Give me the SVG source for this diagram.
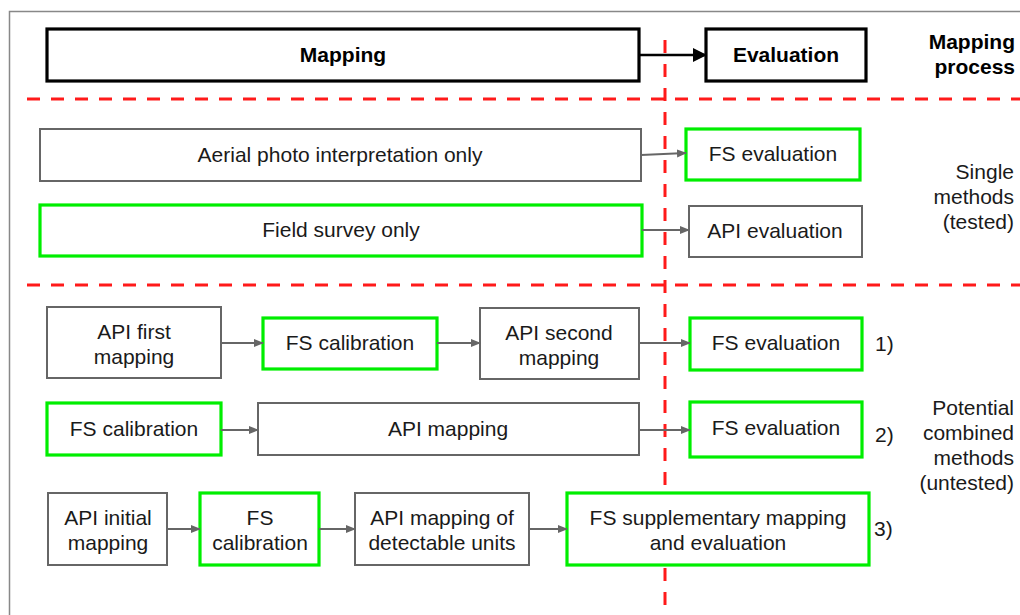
<svg xmlns="http://www.w3.org/2000/svg" width="1020" height="615" viewBox="0 0 1020 615">
<style>
text{font-family:"Liberation Sans",Arial,sans-serif;font-size:21px;fill:#1a1a1a}
.b{font-weight:bold;fill:#000}
.m{text-anchor:middle}
.e{text-anchor:end}
.gray{fill:#fff;stroke:#666;stroke-width:2}
.green{fill:#fff;stroke:#00ee00;stroke-width:3.2}
.black{fill:#fff;stroke:#000;stroke-width:3.2}
.red{stroke:#ff1a1a;stroke-width:3;stroke-dasharray:13 11;fill:none}
.c{stroke:#666;stroke-width:2;fill:none;marker-end:url(#ag)}
</style>
<defs>
<marker id="ag" markerWidth="10" markerHeight="10" refX="9" refY="5" orient="auto" markerUnits="userSpaceOnUse"><path d="M0,1 L10,5 L0,9 Z" fill="#666"/></marker>
<marker id="ab" markerWidth="14" markerHeight="14" refX="13" refY="7" orient="auto" markerUnits="userSpaceOnUse"><path d="M0,0 L14,7 L0,14 Z" fill="#000"/></marker>
</defs>
<rect width="1020" height="615" fill="#fff"/>
<rect x="9.5" y="11.5" width="1030" height="620" fill="none" stroke="#888" stroke-width="1.5"/>

<g id="separators">
<line class="red" x1="27" y1="99" x2="1020" y2="99"/>
<line class="red" x1="27" y1="285" x2="1020" y2="285"/>
<line class="red" x1="665" y1="40" x2="665" y2="605"/>
</g>

<g id="header-mapping"><rect class="black" x="47" y="29" width="592" height="52"/><text class="b m" x="343" y="62">Mapping</text></g>
<g id="header-evaluation"><rect class="black" x="706" y="29" width="160" height="52"/><text class="b m" x="786" y="62">Evaluation</text></g>
<g id="label-process"><text class="b e" x="1015" y="49">Mapping</text><text class="b e" x="1015" y="74">process</text></g>

<g id="api-only"><rect class="gray" x="40" y="129" width="601" height="52"/><text class="m" x="340" y="162">Aerial photo interpretation only</text></g>
<g id="fs-eval-1"><rect class="green" x="686" y="129" width="174" height="51"/><text class="m" x="773" y="161">FS evaluation</text></g>
<g id="fs-only"><rect class="green" x="40" y="205" width="602" height="51"/><text class="m" x="341" y="237">Field survey only</text></g>
<g id="api-eval"><rect class="gray" x="689" y="206" width="173" height="51"/><text class="m" x="775" y="238">API evaluation</text></g>
<g id="label-single"><text class="e" x="1014" y="179">Single</text><text class="e" x="1014" y="204">methods</text><text class="e" x="1014" y="229">(tested)</text></g>

<g id="api-first"><rect class="gray" x="47" y="307" width="174" height="71"/><text class="m" x="134" y="339">API first</text><text class="m" x="134" y="364">mapping</text></g>
<g id="fs-cal-1"><rect class="green" x="263" y="318" width="174" height="51"/><text class="m" x="350" y="350">FS calibration</text></g>
<g id="api-second"><rect class="gray" x="480" y="308" width="159" height="71"/><text class="m" x="559" y="340">API second</text><text class="m" x="559" y="365">mapping</text></g>
<g id="fs-eval-2"><rect class="green" x="690" y="318" width="172" height="52"/><text class="m" x="776" y="350">FS evaluation</text></g>
<text x="875" y="351">1)</text>

<g id="fs-cal-2"><rect class="green" x="47" y="403" width="174" height="52"/><text class="m" x="134" y="436">FS calibration</text></g>
<g id="api-mapping"><rect class="gray" x="258" y="403" width="381" height="52"/><text class="m" x="448" y="436">API mapping</text></g>
<g id="fs-eval-3"><rect class="green" x="690" y="402" width="172" height="55"/><text class="m" x="776" y="435">FS evaluation</text></g>
<text x="875" y="442">2)</text>

<g id="api-initial"><rect class="gray" x="48" y="493" width="119" height="72"/><text class="m" x="108" y="525">API initial</text><text class="m" x="108" y="550">mapping</text></g>
<g id="fs-cal-3"><rect class="green" x="200" y="493" width="119" height="72"/><text class="m" x="260" y="525">FS</text><text class="m" x="260" y="550">calibration</text></g>
<g id="api-detect"><rect class="gray" x="355" y="493" width="174" height="72"/><text class="m" x="442" y="525">API mapping of</text><text class="m" x="442" y="550">detectable units</text></g>
<g id="fs-supp"><rect class="green" x="567" y="493" width="302" height="72"/><text class="m" x="718" y="525">FS supplementary mapping</text><text class="m" x="718" y="550">and evaluation</text></g>
<text x="874" y="536">3)</text>

<g id="label-combined"><text class="e" x="1014" y="415">Potential</text><text class="e" x="1014" y="440">combined</text><text class="e" x="1014" y="465">methods</text><text class="e" x="1014" y="490">(untested)</text></g>

<g id="connectors">
<line x1="639" y1="55" x2="706" y2="55" stroke="#000" stroke-width="2.5" marker-end="url(#ab)"/>
<line class="c" x1="641" y1="155" x2="686" y2="153"/>
<line class="c" x1="642" y1="230" x2="689" y2="230"/>
<line class="c" x1="221" y1="343" x2="263" y2="343"/>
<line class="c" x1="437" y1="343" x2="480" y2="343"/>
<line class="c" x1="639" y1="343" x2="690" y2="343"/>
<line class="c" x1="221" y1="430" x2="258" y2="430"/>
<line class="c" x1="639" y1="430" x2="690" y2="430"/>
<line class="c" x1="167" y1="529" x2="200" y2="529"/>
<line class="c" x1="319" y1="529" x2="355" y2="529"/>
<line class="c" x1="529" y1="529" x2="567" y2="529"/>
</g>
</svg>
